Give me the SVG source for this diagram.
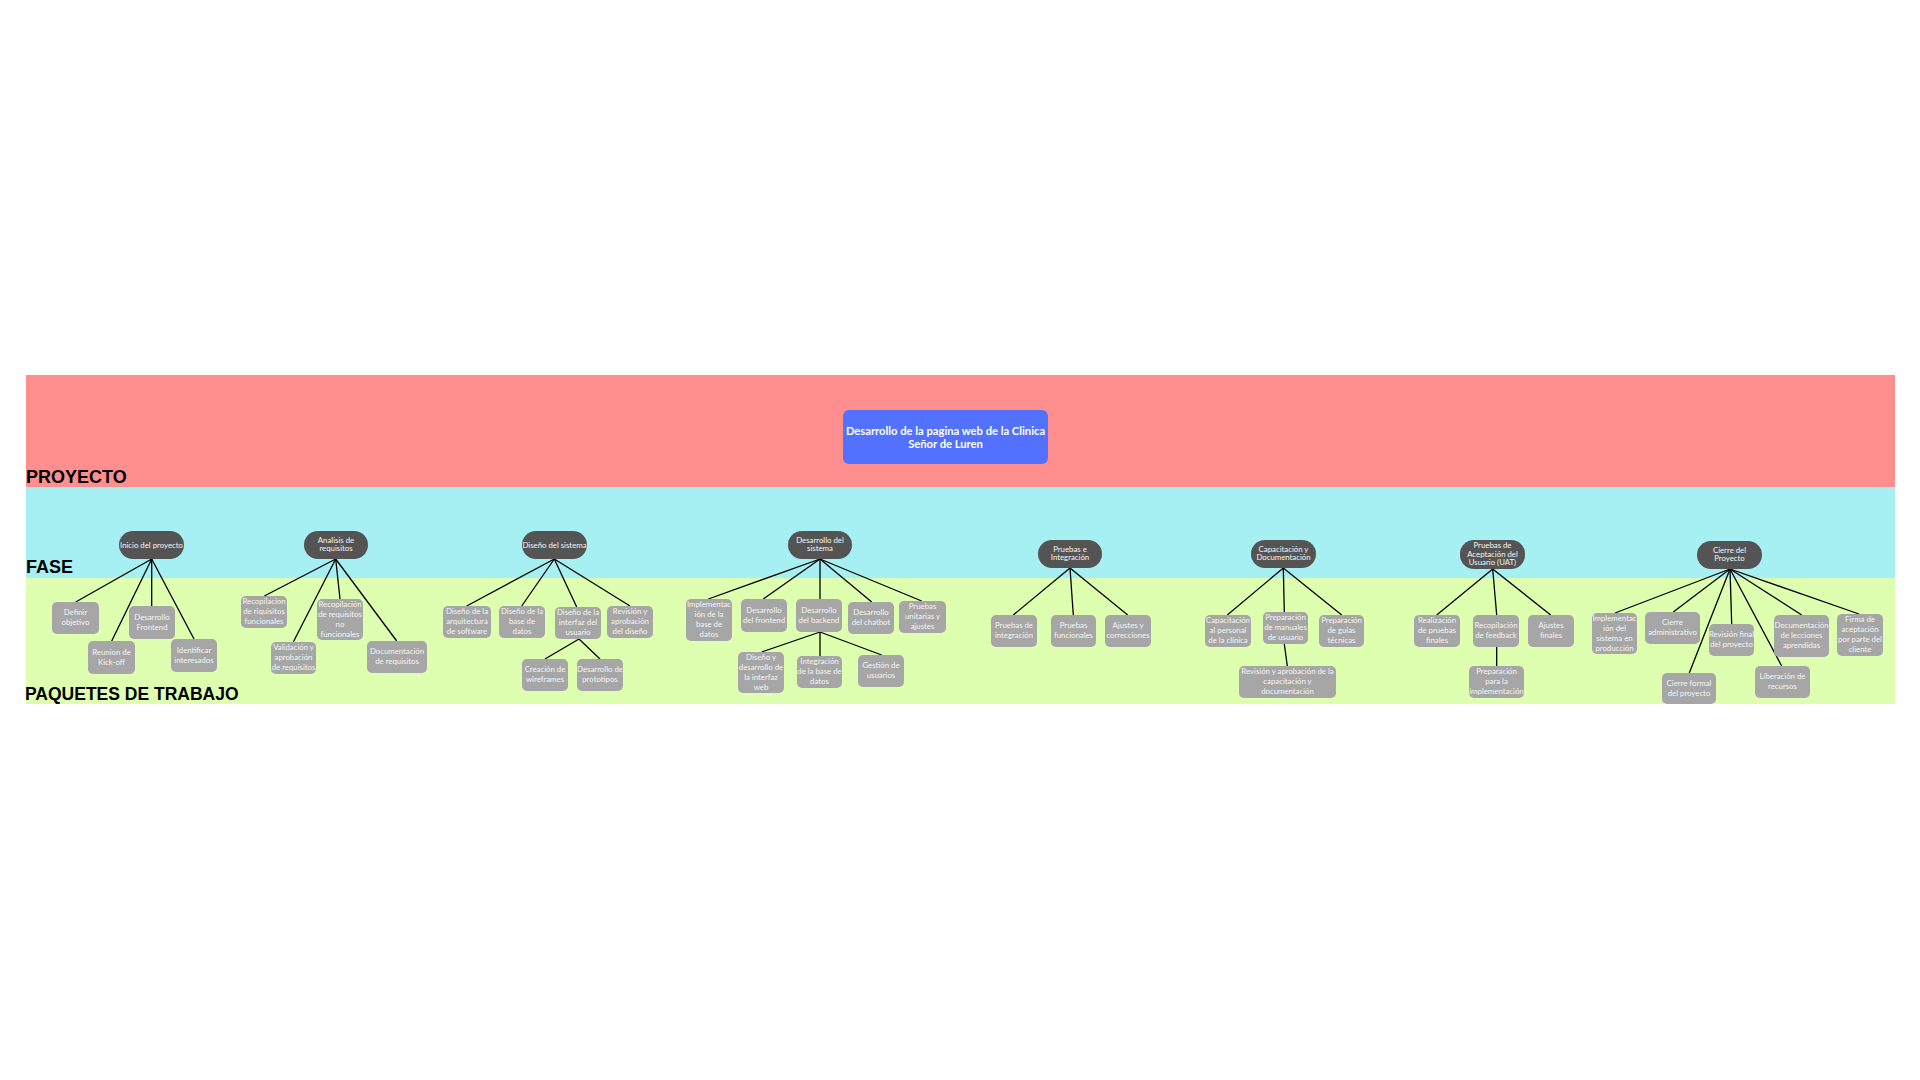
<svg xmlns="http://www.w3.org/2000/svg" width="1920" height="1080" viewBox="0 0 1920 1080">
<style>
.lbl{font-family:"Liberation Sans",Arial,sans-serif;font-weight:bold;font-size:18px;fill:#000}
.ph{fill:#545454}
.wp{fill:#A6A6A6}
.t{font-family:Lato,"Liberation Sans",sans-serif;font-size:7.8px;fill:#F5F5F5;text-anchor:middle}
.tt{font-family:Lato,"Liberation Sans",sans-serif;font-size:11.2px;font-weight:bold;fill:#FFFFFF;text-anchor:middle}
#connectors line{stroke:#000;stroke-width:1.3}
</style>
<rect width="1920" height="1080" fill="#FFFFFF"/>
<g id="bands">
<rect x="26" y="375" width="1869" height="112" fill="#FF8F8F"/>
<rect x="26" y="487" width="1869" height="91" fill="#A6EFF2"/>
<rect x="26" y="578" width="1869" height="126" fill="#DFFFB0"/>
<text class="lbl" x="26" y="483">PROYECTO</text>
<text class="lbl" x="26" y="573">FASE</text>
<text class="lbl" x="25" y="700" style="font-size:17.5px">PAQUETES DE TRABAJO</text>
</g>
<g id="connectors">
<line x1="151.7" y1="559" x2="75.7" y2="602"/>
<line x1="151.7" y1="559" x2="111.7" y2="641"/>
<line x1="151.7" y1="559" x2="151.7" y2="606"/>
<line x1="151.7" y1="559" x2="194" y2="639"/>
<line x1="335.7" y1="559" x2="264.3" y2="596"/>
<line x1="335.7" y1="559" x2="293.3" y2="642"/>
<line x1="335.7" y1="559" x2="340" y2="599"/>
<line x1="335.7" y1="559" x2="396.7" y2="641"/>
<line x1="554.3" y1="559" x2="466.7" y2="606"/>
<line x1="554.3" y1="559" x2="521.7" y2="606"/>
<line x1="554.3" y1="559" x2="576.7" y2="607"/>
<line x1="554.3" y1="559" x2="630" y2="606"/>
<line x1="579" y1="639" x2="545" y2="659"/>
<line x1="579" y1="639" x2="600" y2="659"/>
<line x1="820" y1="559" x2="708.3" y2="599"/>
<line x1="820" y1="559" x2="763.3" y2="599"/>
<line x1="820" y1="559" x2="820" y2="599"/>
<line x1="820" y1="559" x2="871.7" y2="602"/>
<line x1="820" y1="559" x2="921.7" y2="601"/>
<line x1="820" y1="632" x2="761.7" y2="652"/>
<line x1="820" y1="632" x2="820" y2="656"/>
<line x1="820" y1="632" x2="881.7" y2="655"/>
<line x1="1070" y1="568" x2="1013.3" y2="615"/>
<line x1="1070" y1="568" x2="1073.3" y2="615"/>
<line x1="1070" y1="568" x2="1127.7" y2="615"/>
<line x1="1283.3" y1="568" x2="1227.3" y2="615"/>
<line x1="1283.3" y1="568" x2="1284.3" y2="612"/>
<line x1="1283.3" y1="568" x2="1341.7" y2="615"/>
<line x1="1284.3" y1="644" x2="1287.3" y2="666"/>
<line x1="1492.7" y1="569" x2="1436.7" y2="615"/>
<line x1="1492.7" y1="569" x2="1496.7" y2="615"/>
<line x1="1492.7" y1="569" x2="1550.7" y2="615"/>
<line x1="1496.7" y1="647" x2="1496.7" y2="666"/>
<line x1="1730" y1="569" x2="1615" y2="613"/>
<line x1="1730" y1="569" x2="1673.3" y2="612"/>
<line x1="1730" y1="569" x2="1731.7" y2="624"/>
<line x1="1730" y1="569" x2="1801.7" y2="615"/>
<line x1="1730" y1="569" x2="1859" y2="614"/>
<line x1="1730" y1="569" x2="1689.3" y2="673"/>
<line x1="1730" y1="569" x2="1781.7" y2="666"/>
</g>
<g id="root">
<rect x="843" y="410" width="205" height="54" rx="6" fill="#5271FF"/>
<text class="tt" x="945.5" y="434.5">Desarrollo de la pagina web de la Clinica</text>
<text class="tt" x="945.5" y="448">Señor de Luren</text>
</g>
<g id="p1"><rect class="ph" x="119" y="531" width="65" height="28" rx="14"/><text class="t" x="151.5" y="547.5">Inicio del proyecto</text></g>
<g id="p2"><rect class="ph" x="304" y="531" width="64" height="28" rx="14"/><text class="t" x="336" y="542.9">Analisis de</text><text class="t" x="336" y="551.1">requisitos</text></g>
<g id="p3"><rect class="ph" x="522" y="531" width="65" height="28" rx="14"/><text class="t" x="554.5" y="547.5">Diseño del sistema</text></g>
<g id="p4"><rect class="ph" x="788" y="531" width="64" height="28" rx="14"/><text class="t" x="820" y="542.9">Desarrollo del</text><text class="t" x="820" y="551.1">sistema</text></g>
<g id="p5"><rect class="ph" x="1038" y="540" width="64" height="28" rx="14"/><text class="t" x="1070" y="551.9">Pruebas e</text><text class="t" x="1070" y="560.1">Integración</text></g>
<g id="p6"><rect class="ph" x="1251" y="540" width="65" height="28" rx="14"/><text class="t" x="1283.5" y="551.9">Capacitación y</text><text class="t" x="1283.5" y="560.1">Documentación</text></g>
<g id="p7"><rect class="ph" x="1460" y="540" width="65" height="29" rx="14"/><text class="t" x="1492.5" y="548.3">Pruebas de</text><text class="t" x="1492.5" y="556.5">Aceptación del</text><text class="t" x="1492.5" y="564.7">Usuario (UAT)</text></g>
<g id="p8"><rect class="ph" x="1697" y="541" width="65" height="28" rx="14"/><text class="t" x="1729.5" y="552.9">Cierre del</text><text class="t" x="1729.5" y="561.1">Proyecto</text></g>

<g id="w1a"><rect class="wp" x="52" y="602" width="47" height="32" rx="5"/><text class="t" x="75.5" y="615">Definir</text><text class="t" x="75.5" y="625">objetivo</text></g>
<g id="w1b"><rect class="wp" x="88" y="641" width="47" height="33" rx="5"/><text class="t" x="111.5" y="654.5">Reunion de</text><text class="t" x="111.5" y="664.5">Kick-off</text></g>
<g id="w1c"><rect class="wp" x="129" y="606" width="46" height="33" rx="5"/><text class="t" x="152" y="619.5">Desarrollo</text><text class="t" x="152" y="629.5">Frontend</text></g>
<g id="w1d"><rect class="wp" x="171" y="639" width="46" height="33" rx="5"/><text class="t" x="194" y="652.5">Identificar</text><text class="t" x="194" y="662.5">interesados</text></g>

<g id="w2a"><rect class="wp" x="241" y="596" width="46" height="32" rx="5"/><text class="t" x="264" y="604">Recopilacion</text><text class="t" x="264" y="614">de riquisitos</text><text class="t" x="264" y="624">funcionales</text></g>
<g id="w2b"><rect class="wp" x="271" y="642" width="45" height="32" rx="5"/><text class="t" x="293.5" y="650">Validación y</text><text class="t" x="293.5" y="660">aprobación</text><text class="t" x="293.5" y="670">de requisitos</text></g>
<g id="w2c"><rect class="wp" x="317" y="599" width="46" height="41" rx="5"/><text class="t" x="340" y="606.5">Recopilación</text><text class="t" x="340" y="616.5">de requisitos</text><text class="t" x="340" y="626.5">no</text><text class="t" x="340" y="636.5">funcionales</text></g>
<g id="w2d"><rect class="wp" x="367" y="641" width="60" height="32" rx="5"/><text class="t" x="397" y="654">Documentación</text><text class="t" x="397" y="664">de requisitos</text></g>

<g id="w3a"><rect class="wp" x="443" y="606" width="48" height="32" rx="5"/><text class="t" x="467" y="614">Diseño de la</text><text class="t" x="467" y="624">arquitectura</text><text class="t" x="467" y="634">de software</text></g>
<g id="w3b"><rect class="wp" x="499" y="606" width="46" height="32" rx="5"/><text class="t" x="522" y="614">Diseño de la</text><text class="t" x="522" y="624">base de</text><text class="t" x="522" y="634">datos</text></g>
<g id="w3c"><rect class="wp" x="555" y="607" width="46" height="32" rx="5"/><text class="t" x="578" y="615">Diseño de la</text><text class="t" x="578" y="625">interfaz del</text><text class="t" x="578" y="635">usuario</text></g>
<g id="w3d"><rect class="wp" x="607" y="606" width="46" height="32" rx="5"/><text class="t" x="630" y="614">Revisión y</text><text class="t" x="630" y="624">aprobación</text><text class="t" x="630" y="634">del diseño</text></g>
<g id="w3e"><rect class="wp" x="522" y="659" width="46" height="32" rx="5"/><text class="t" x="545" y="672">Creación de</text><text class="t" x="545" y="682">wireframes</text></g>
<g id="w3f"><rect class="wp" x="577" y="659" width="46" height="32" rx="5"/><text class="t" x="600" y="672">Desarrollo de</text><text class="t" x="600" y="682">prototipos</text></g>

<g id="w4a"><rect class="wp" x="686" y="599" width="46" height="42" rx="5"/><text class="t" x="709" y="607">Implementac</text><text class="t" x="709" y="617">ión de la</text><text class="t" x="709" y="627">base de</text><text class="t" x="709" y="637">datos</text></g>
<g id="w4b"><rect class="wp" x="741" y="599" width="46" height="33" rx="5"/><text class="t" x="764" y="612.5">Desarrollo</text><text class="t" x="764" y="622.5">del frontend</text></g>
<g id="w4c"><rect class="wp" x="796" y="599" width="46" height="33" rx="5"/><text class="t" x="819" y="612.5">Desarrollo</text><text class="t" x="819" y="622.5">del backend</text></g>
<g id="w4d"><rect class="wp" x="848" y="602" width="46" height="32" rx="5"/><text class="t" x="871" y="615">Desarrollo</text><text class="t" x="871" y="625">del chatbot</text></g>
<g id="w4e"><rect class="wp" x="899" y="601" width="47" height="32" rx="5"/><text class="t" x="922.5" y="609">Pruebas</text><text class="t" x="922.5" y="619">unitarias y</text><text class="t" x="922.5" y="629">ajustes</text></g>
<g id="w4f"><rect class="wp" x="738" y="652" width="46" height="41" rx="5"/><text class="t" x="761" y="659.5">Diseño y</text><text class="t" x="761" y="669.5">desarrollo de</text><text class="t" x="761" y="679.5">la interfaz</text><text class="t" x="761" y="689.5">web</text></g>
<g id="w4g"><rect class="wp" x="797" y="656" width="45" height="32" rx="5"/><text class="t" x="819.5" y="664">Integración</text><text class="t" x="819.5" y="674">de la base de</text><text class="t" x="819.5" y="684">datos</text></g>
<g id="w4h"><rect class="wp" x="858" y="655" width="46" height="32" rx="5"/><text class="t" x="881" y="668">Gestión de</text><text class="t" x="881" y="678">usuarios</text></g>

<g id="w5a"><rect class="wp" x="991" y="615" width="46" height="32" rx="5"/><text class="t" x="1014" y="628">Pruebas de</text><text class="t" x="1014" y="638">integración</text></g>
<g id="w5b"><rect class="wp" x="1051" y="615" width="45" height="32" rx="5"/><text class="t" x="1073.5" y="628">Pruebas</text><text class="t" x="1073.5" y="638">funcionales</text></g>
<g id="w5c"><rect class="wp" x="1105" y="615" width="46" height="32" rx="5"/><text class="t" x="1128" y="628">Ajustes y</text><text class="t" x="1128" y="638">correcciones</text></g>

<g id="w6a"><rect class="wp" x="1205" y="615" width="46" height="32" rx="5"/><text class="t" x="1228" y="623">Capacitación</text><text class="t" x="1228" y="633">al personal</text><text class="t" x="1228" y="643">de la clínica</text></g>
<g id="w6b"><rect class="wp" x="1263" y="612" width="45" height="32" rx="5"/><text class="t" x="1285.5" y="620">Preparación</text><text class="t" x="1285.5" y="630">de manuales</text><text class="t" x="1285.5" y="640">de usuario</text></g>
<g id="w6c"><rect class="wp" x="1319" y="615" width="45" height="32" rx="5"/><text class="t" x="1341.5" y="623">Preparación</text><text class="t" x="1341.5" y="633">de guías</text><text class="t" x="1341.5" y="643">técnicas</text></g>
<g id="w6d"><rect class="wp" x="1239" y="666" width="97" height="32" rx="5"/><text class="t" x="1287.5" y="674">Revisión y aprobación de la</text><text class="t" x="1287.5" y="684">capacitación y</text><text class="t" x="1287.5" y="694">documentación</text></g>

<g id="w7a"><rect class="wp" x="1414" y="615" width="46" height="32" rx="5"/><text class="t" x="1437" y="623">Realización</text><text class="t" x="1437" y="633">de pruebas</text><text class="t" x="1437" y="643">finales</text></g>
<g id="w7b"><rect class="wp" x="1473" y="615" width="46" height="32" rx="5"/><text class="t" x="1496" y="628">Recopilación</text><text class="t" x="1496" y="638">de feedback</text></g>
<g id="w7c"><rect class="wp" x="1528" y="615" width="46" height="32" rx="5"/><text class="t" x="1551" y="628">Ajustes</text><text class="t" x="1551" y="638">finales</text></g>
<g id="w7d"><rect class="wp" x="1469" y="666" width="55" height="32" rx="5"/><text class="t" x="1496.5" y="674">Preparación</text><text class="t" x="1496.5" y="684">para la</text><text class="t" x="1496.5" y="694">implementación</text></g>

<g id="w8a"><rect class="wp" x="1592" y="613" width="45" height="41" rx="5"/><text class="t" x="1614.5" y="620.5">Implementac</text><text class="t" x="1614.5" y="630.5">ión del</text><text class="t" x="1614.5" y="640.5">sistema en</text><text class="t" x="1614.5" y="650.5">producción</text></g>
<g id="w8b"><rect class="wp" x="1645" y="612" width="55" height="32" rx="5"/><text class="t" x="1672.5" y="625">Cierre</text><text class="t" x="1672.5" y="635">administrativo</text></g>
<g id="w8c"><rect class="wp" x="1709" y="624" width="45" height="32" rx="5"/><text class="t" x="1731.5" y="637">Revisión final</text><text class="t" x="1731.5" y="647">del proyecto</text></g>
<g id="w8d"><rect class="wp" x="1774" y="615" width="55" height="42" rx="5"/><text class="t" x="1801.5" y="628">Documentación</text><text class="t" x="1801.5" y="638">de lecciones</text><text class="t" x="1801.5" y="648">aprendidas</text></g>
<g id="w8e"><rect class="wp" x="1837" y="614" width="46" height="42" rx="5"/><text class="t" x="1860" y="622">Firma de</text><text class="t" x="1860" y="632">aceptación</text><text class="t" x="1860" y="642">por parte del</text><text class="t" x="1860" y="652">cliente</text></g>
<g id="w8f"><rect class="wp" x="1662" y="673" width="54" height="31" rx="5"/><text class="t" x="1689" y="685.5">Cierre formal</text><text class="t" x="1689" y="695.5">del proyecto</text></g>
<g id="w8g"><rect class="wp" x="1755" y="666" width="55" height="32" rx="5"/><text class="t" x="1782.5" y="679">Liberación de</text><text class="t" x="1782.5" y="689">recursos</text></g>
</svg>
